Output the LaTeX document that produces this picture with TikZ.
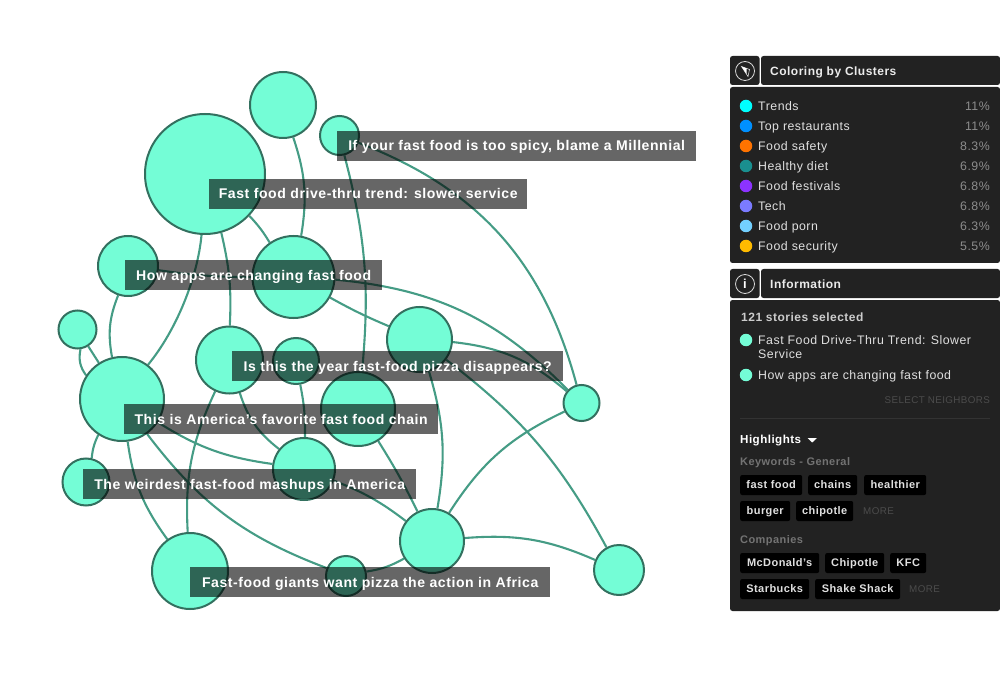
\documentclass[tikz,border=0pt]{standalone}
\usepackage{fontspec}
\setmainfont{Liberation Sans}[LetterSpace=4]
\pgfdeclarelayer{links}
\pgfsetlayers{links,main}
\definecolor{mint}{HTML}{74FDD6}
\definecolor{ringgreen}{HTML}{33705F}
\definecolor{edgegreen}{HTML}{459C85}
\definecolor{panelgray}{HTML}{222222}
\tikzset{
	bubble/.style={circle,draw=ringgreen,fill=mint,line width=2pt,inner sep=0pt,minimum size=#1},
	link/.style={draw=edgegreen,line width=2.1pt},
	headline/.style={fill=black,fill opacity=0.6,text opacity=1,text=white,font=\fontsize{14.05}{14}\selectfont\bfseries,text height=12.6pt,text depth=2.6pt,inner sep=0pt,minimum height=30pt,anchor=west},
	panelbox/.style={fill=panelgray,rounded corners=2.5pt},
	legendtext/.style={text=white!88!black,font=\fontsize{12.35}{12}\selectfont,text height=10.8pt,text depth=2.2pt,anchor=west,inner sep=0pt},
	pcttext/.style={text=white!55!black,font=\fontsize{12.35}{12}\selectfont,text height=10.8pt,text depth=2.2pt,anchor=east,inner sep=0pt},
	headtext/.style={text=white!92!black,font=\fontsize{12}{12}\selectfont\bfseries,text height=10.8pt,text depth=2.2pt,anchor=west,inner sep=0pt},
	subtext/.style={text=white!45!black,font=\fontsize{11}{12}\selectfont\bfseries,text height=9.9pt,text depth=2pt,anchor=west,inner sep=0pt},
	faint/.style={text=white!30!black,font=\fontsize{9.8}{10}\selectfont,text height=9pt,text depth=1.8pt,inner sep=0pt},
	tagbox/.style={fill=black,text=white!88!black,font=\fontsize{11}{11}\selectfont\bfseries,text height=9.9pt,text depth=2pt,rounded corners=2pt,inner sep=0pt,minimum height=20pt,anchor=west},
	dot/.style={circle,inner sep=0pt,minimum size=12.5pt,fill=#1},
}
\begin{document}
\begin{tikzpicture}[x=1pt,y=-1pt]
	\useasboundingbox (0,0) rectangle (1000,700);
	% bubbles
	\node[bubble=66pt] (top) at (283,105) {};
	\node[bubble=120pt] (big) at (205,174) {};
	\node[bubble=39pt] (spicy) at (339.5,135.5) {};
	\node[bubble=60pt] (apps) at (128,266) {};
	\node[bubble=82pt] (hub) at (293.5,277) {};
	\node[bubble=38pt] (lone) at (77.5,329.5) {};
	\node[bubble=67pt] (year) at (229.5,360) {};
	\node[bubble=46pt] (slice) at (296,361) {};
	\node[bubble=65pt] (rise) at (419.5,339.5) {};
	\node[bubble=36pt] (east) at (581.5,403) {};
	\node[bubble=84pt] (chain) at (122,399) {};
	\node[bubble=74pt] (fav) at (358,409) {};
	\node[bubble=62pt] (mash) at (304,469) {};
	\node[bubble=47pt] (weird) at (86,482) {};
	\node[bubble=76pt] (giants) at (190,571) {};
	\node[bubble=40pt] (pizza) at (346,576) {};
	\node[bubble=64pt] (africa) at (432,541) {};
	\node[bubble=50pt] (far) at (619,570) {};
	% links
	\begin{pgfonlayer}{links}
		\path[link] (top) to[bend left=14] (hub);
		\path[link] (big) to[bend left=6] (hub);
		\path[link] (big) to[bend left=8] (year);
		\path[link] (big) to[bend left=17,looseness=0.8] (chain);
		\path[link] (apps) to[bend right=16] (chain);
		\path[link] (apps) to[bend right=4] (hub);
		\path[link] (hub) to[bend left=20] (east);
		\path[link] (hub) to[bend right=3] (rise);
		\path[link] (spicy) to[bend left=10] (fav);
		\path[link] (spicy) to[bend left=27] (east);
		\path[link] (lone) to[bend right=24] (chain);
		\path[link] (lone) to (chain);
		\path[link] (chain) to[bend right=10] (weird);
		\path[link] (chain) to[bend right=12] (mash);
		\path[link] (chain) to[bend right=14] (giants);
		\path[link] (chain) to[bend right=16] (pizza);
		\path[link] (year) to[bend right=17] (mash);
		\path[link] (year) to[bend right=14] (giants);
		\path[link] (slice) to[bend left=6] (mash);
		\path[link] (fav) to[bend left=3] (africa);
		\path[link] (rise) to[bend left=13] (africa);
		\path[link] (rise) to[bend left=17] (east);
		\path[link] (rise) to[bend left=12] (far);
		\path[link] (mash) to[bend left=8] (africa);
		\path[link] (pizza) to[bend right=10] (africa);
		\path[link] (africa) to[bend left=16] (east);
		\path[link] (africa) to[bend left=14] (far);
	\end{pgfonlayer}
	% headlines
	\node[headline,minimum width=359pt] (h1) at (337,146) {If your fast food is too spicy, blame a Millennial};
	\node[headline,minimum width=318pt] (h2) at (209,194) {Fast food drive-thru trend: slower service};
	\node[headline,minimum width=257pt] (h3) at (125,275) {How apps are changing fast food};
	\node[headline,minimum width=331pt] (h4) at (232,366) {Is this the year fast-food pizza disappears?};
	\node[headline,minimum width=314pt] (h5) at (124,419) {This is America's favorite fast food chain};
	\node[headline,minimum width=333pt] (h6) at (83,484) {The weirdest fast-food mashups in America};
	\node[headline,minimum width=360pt] (h7) at (190,582) {Fast-food giants want pizza the action in Africa};
	% top panel
	\fill[panelbox] (730,56) rectangle (759.5,85);
	\fill[panelbox] (761,56) rectangle (1000,85);
	\fill[panelbox] (730,87) rectangle (1000,263);
	\draw[white!85!black,line width=0.8pt] (745,71) circle (9.5);
	\draw[white!85!black,line width=0.6pt] (741.5,66.5) -- (749.5,69.5) -- (748,76.5) -- cycle;
	\fill[white] (741.5,66.5) -- (746.5,68.3) -- (746.5,74) -- cycle;
	\node[headtext] (coltitle) at (770,71) {Coloring by Clusters};
	\foreach \idx/\col/\txt/\pct in {0/00FFFF/Trends/11,1/0090FF/Top restaurants/11,2/FF7300/Food safety/8.3,3/1A8F8F/Healthy diet/6.9,4/8C33FF/Food festivals/6.8,5/7B7BFF/Tech/6.8,6/73D0FF/Food porn/6.3,7/FFBB00/Food security/5.5} {
		\definecolor{legcol}{HTML}{\col}
		\pgfmathsetmacro{\y}{106+\idx*20}
		\node[dot=legcol] (dot\idx) at (746,\y) {};
		\node[legendtext] (leg\idx) at (758,\y) {\txt};
		\node[pcttext] (pct\idx) at (990,\y) {\pct\%};
	}
	% bottom panel
	\fill[panelbox] (730,269) rectangle (759.5,298);
	\fill[panelbox] (761,269) rectangle (1000,298);
	\fill[panelbox] (730,300) rectangle (1000,611);
	\draw[white!85!black,line width=0.8pt] (745,284) circle (9.5);
	\node[text=white,font=\fontsize{13}{13}\selectfont\bfseries,inner sep=0pt] (infoi) at (745,284) {i};
	\node[headtext] (infotitle) at (770,284) {Information};
	\node[headtext,text=white!80!black] (count) at (741,317) {121 stories selected};
	\node[dot=mint] (sel1) at (746,340) {};
	\node[legendtext] (sel1txt) at (758,340) {Fast Food Drive-Thru Trend: Slower};
	\node[legendtext] (sel1more) at (758,354) {Service};
	\node[dot=mint] (sel2) at (746,375) {};
	\node[legendtext] (sel2txt) at (758,375) {How apps are changing fast food};
	\node[faint,anchor=east] (nbrs) at (990,400) {SELECT NEIGHBORS};
	\draw[white!20!black] (740,418) -- (990,418);
	\node[headtext,text=white,font=\fontsize{11.6}{12}\selectfont\bfseries] (highl) at (740,439) {Highlights};
	\fill[white] (807.5,438) -- (817,438) -- (812.2,442.5) -- cycle;
	\node[subtext] (kw) at (740,462) {Keywords - General};
	\foreach \name/\x/\w/\y/\txt in {t1/740/62/485/fast food,t2/808/49/485/chains,t3/864/62/485/healthier,t4/740/50/511/burger,t5/796/57/511/chipotle,t6/740/79/563/McDonald's,t7/825/59/563/Chipotle,t8/890/36/563/KFC,t9/740/69/589/Starbucks,t10/815/85/589/Shake Shack} {
		\node[tagbox,minimum width=\w pt] (\name) at (\x,\y) {\txt};
	}
	\node[faint,anchor=west] (more1) at (863,511) {MORE};
	\node[subtext] (comp) at (740,540) {Companies};
	\node[faint,anchor=west] (more2) at (909,589) {MORE};
\end{tikzpicture}
\end{document}
